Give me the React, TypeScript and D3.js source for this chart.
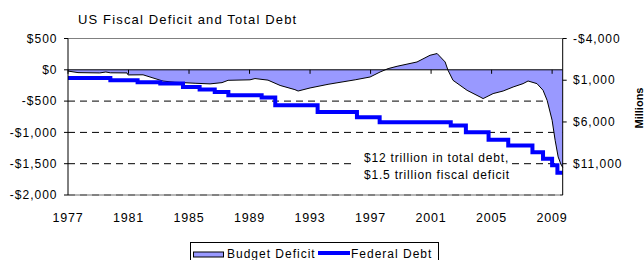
import React from 'react';
import * as d3 from 'd3';

// rolling budget balance, $ billions (left axis)
const deficitYears = [1977.0, 1977.66, 1979.1, 1979.5, 1979.8, 1980.9, 1980.97, 1981.96, 1983.28, 1984.07, 1984.6, 1985.4, 1986.39, 1987.18, 1987.58, 1989.03, 1989.36, 1990.22, 1991.02, 1992.0, 1992.21, 1993.0, 1994.19, 1994.98, 1995.98, 1996.97, 1997.63, 1998.16, 1998.75, 2000.07, 2000.93, 2001.4, 2001.93, 2002.12, 2002.45, 2003.38, 2004.24, 2004.44, 2005.1, 2005.76, 2006.42, 2007.08, 2007.41, 2008.0, 2008.4, 2008.67, 2009.0, 2009.2, 2009.4, 2009.57, 2009.7];
const deficitValues = [-20, -45, -50, -35, -48, -50, -82, -80, -180, -200, -205, -215, -225, -205, -168, -160, -140, -165, -250, -317, -339, -290, -232, -200, -160, -115, -35, 19, 56, 125, 232, 260, 125, -8, -168, -328, -434, -460, -380, -339, -275, -221, -179, -221, -327, -487, -806, -1125, -1392, -1500, -1560];

// federal debt, $ billions (right axis), step changes
const debtYears = [1977.0, 1979.8, 1981.6, 1983.1, 1984.6, 1985.7, 1986.7, 1987.6, 1989.8, 1990.7, 1993.5, 1996.1, 1997.6, 2002.3, 2003.3, 2004.8, 2006.1, 2007.7, 2008.4, 2009.0, 2009.35, 2009.7];
const debtValues = [720, 1000, 1240, 1380, 1810, 2120, 2410, 2810, 3080, 4010, 4820, 5420, 6020, 6420, 7230, 8140, 8830, 9640, 10400, 11200, 12080, 12080];

const yearTicks = [1977, 1981, 1985, 1989, 1993, 1997, 2001, 2005, 2009];
const leftTicks = [500, 0, -500, -1000, -1500, -2000];
const rightTicks = [-4000, 1000, 6000, 11000];
const gridTicks = [-500, -1000, -1500];

const font = 'Liberation Sans, Arial, sans-serif';
const money = (v: number) => (v < 0 ? '-$' : '$') + d3.format(',')(Math.abs(v));

export default function App() {
  const width = 644, height = 260;
  const left = 68, right = 562.7, top = 38.5, bottom = 195;

  const x = d3.scaleLinear().domain([1977, 2009.7]).range([left, right]);
  const yL = d3.scaleLinear().domain([-2000, 500]).range([bottom, top]);
  const yR = d3.scaleLinear().domain([-4000, 14750]).range([top, bottom]);

  const deficit = deficitYears.map((yr, i) => ({ yr, v: deficitValues[i] }));
  const debt = debtYears.map((yr, i) => ({ yr, v: debtValues[i] }));

  const area = d3.area<{ yr: number; v: number }>()
    .x(d => x(d.yr)).y0(yL(0)).y1(d => yL(d.v));
  const deficitLine = d3.line<{ yr: number; v: number }>()
    .x(d => x(d.yr)).y(d => yL(d.v));
  const debtLine = d3.line<{ yr: number; v: number }>()
    .x(d => x(d.yr)).y(d => yR(d.v)).curve(d3.curveStepAfter);

  return (
    <svg width={width} height={height} style={{ position: 'absolute', left: 0, top: 0, background: '#fff' }}
      fontFamily={font}>
      <text x={78} y={24} fontSize={13} letterSpacing={1.15} fill="#000">US Fiscal Deficit and Total Debt</text>

      {/* gridlines */}
      {gridTicks.map(t => (
        <line key={t} x1={left} x2={right} y1={yL(t)} y2={yL(t)} stroke="#000" strokeDasharray="7,5" />
      ))}
      <line x1={left} x2={right} y1={top} y2={top} stroke="#808080" />
      <line x1={left} x2={right} y1={bottom} y2={bottom} stroke="#a0a0a0" strokeWidth={1.5} />
      <line x1={left} x2={right} y1={bottom} y2={bottom} stroke="#707070" strokeWidth={1.5} strokeDasharray="7,5" />

      {/* series */}
      <path d={area(deficit) ?? ''} fill="#9999FF" />
      <path d={deficitLine(deficit) ?? ''} fill="none" stroke="#000" strokeWidth={1} />
      <path d={debtLine(debt) ?? ''} fill="none" stroke="#0000FF" strokeWidth={4} />

      {/* zero axis with year ticks */}
      <line x1={left} x2={right} y1={yL(0)} y2={yL(0)} stroke="#000" />
      {yearTicks.map(t => (
        <g key={t}>
          <line x1={x(t)} x2={x(t)} y1={yL(0)} y2={yL(0) + 4} stroke="#000" />
          <text x={x(t)} y={221.5} textAnchor="middle" fontSize={12.5} letterSpacing={0.8}>{t}</text>
        </g>
      ))}

      {/* left axis */}
      <line x1={left} x2={left} y1={top} y2={bottom} stroke="#000" />
      {leftTicks.map(t => (
        <g key={t}>
          <line x1={left - 4} x2={left} y1={yL(t)} y2={yL(t)} stroke="#000" />
          <text x={57.5} y={yL(t)} dy="0.35em" textAnchor="end" fontSize={12} letterSpacing={1}>{money(t)}</text>
        </g>
      ))}

      {/* right axis */}
      <line x1={right} x2={right} y1={top} y2={bottom} stroke="#000" />
      {rightTicks.map(t => (
        <g key={t}>
          <line x1={right} x2={right + 4} y1={yR(t)} y2={yR(t)} stroke="#000" />
          <text x={573} y={yR(t)} dy="0.35em" fontSize={12} letterSpacing={1}>{money(t)}</text>
        </g>
      ))}
      <text transform="translate(643,108) rotate(-90)" textAnchor="middle" fontSize={11} fontWeight="bold">Millions</text>

      {/* annotation */}
      <rect x={356} y={149} width={155} height={34} fill="#fff" />
      <text x={364} y={162} fontSize={12} letterSpacing={0.8}>$12 trillion in total debt,</text>
      <text x={364} y={179} fontSize={12} letterSpacing={0.8}>$1.5 trillion fiscal deficit</text>

      {/* legend */}
      <rect x={190.5} y={242.5} width={248} height={30} fill="#fff" stroke="#000" />
      <rect x={193.5} y={252} width={30} height={5} fill="#9999FF" stroke="#000" />
      <text x={227} y={257.5} fontSize={12} letterSpacing={1}>Budget Deficit</text>
      <line x1={318} x2={350} y1={253} y2={253} stroke="#0000FF" strokeWidth={4} />
      <text x={351} y={257.5} fontSize={12} letterSpacing={1}>Federal Debt</text>
    </svg>
  );
}
